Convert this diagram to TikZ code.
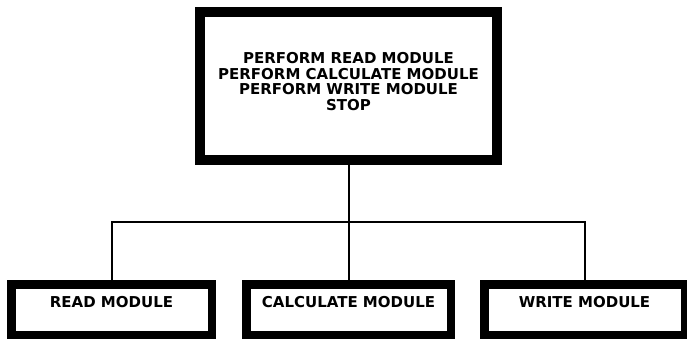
\documentclass[tikz,border=0pt]{standalone}
\usepackage{fontspec}
\setmainfont{DejaVu Sans}
\tikzset{
    mainbox/.style={draw,line width=10pt,minimum width=297pt,minimum height=148pt,inner sep=0pt,align=center,font=\fontsize{15}{15.7}\selectfont\bfseries},
    modbox/.style={draw,line width=8.5pt,minimum height=50.5pt,inner sep=0pt,text height=11pt,text depth=16pt,font=\fontsize{15}{18}\selectfont\bfseries},
    link/.style={line width=2pt}
}
\begin{document}
\begin{tikzpicture}[x=1pt,y=-1pt]
    \useasboundingbox (0,0) rectangle (687,339);
    % Main program
    \node[mainbox] (main) at (348.5,86) {PERFORM READ MODULE\\PERFORM CALCULATE MODULE\\PERFORM WRITE MODULE\\STOP\rule[-9pt]{0pt}{9pt}};
    % Modules
    \node[modbox,minimum width=200.5pt] (read) at (111.5,309.5) {READ MODULE};
    \node[modbox,minimum width=204.5pt] (calc) at (348.5,309.5) {CALCULATE MODULE};
    \node[modbox,minimum width=200.5pt] (write) at (584.5,309.5) {WRITE MODULE};
    % Links
    \coordinate (bus) at (348.5,222);
    \draw[link] (main.south) -- (bus);
    \draw[link] (read.north) |- (bus) -| (write.north);
    \draw[link] (bus) -- (calc.north);
\end{tikzpicture}
\end{document}
